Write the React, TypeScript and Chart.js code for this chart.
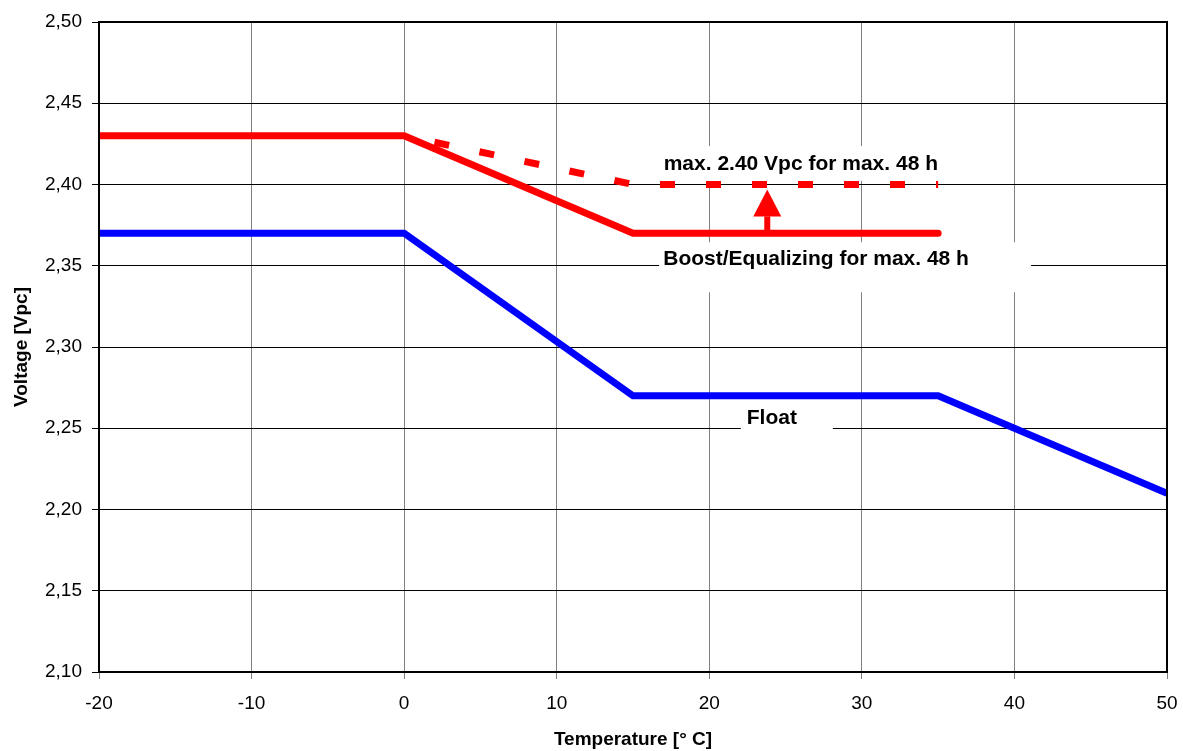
import React, { useEffect, useRef } from "react";
import { Chart, registerables } from "chart.js";

Chart.register(...registerables);

// ---- data ----
const xTickValues = [-20, -10, 0, 10, 20, 30, 40, 50];
const xTickLabels = ["-20", "-10", "0", "10", "20", "30", "40", "50"];
const yTickValues = [2.1, 2.15, 2.2, 2.25, 2.3, 2.35, 2.4, 2.45, 2.5];
const yTickLabels = ["2,10", "2,15", "2,20", "2,25", "2,30", "2,35", "2,40", "2,45", "2,50"];

const floatTemps = [-20, 0, 15, 35, 50];
const floatVolts = [2.37, 2.37, 2.27, 2.27, 2.21];

const boostTemps = [-20, 0, 15, 35];
const boostVolts = [2.43, 2.43, 2.37, 2.37];

const maxTemps = [0, 15, 35];
const maxVolts = [2.43, 2.4, 2.4];

const arrowTemp = 23.8;
const arrowFromVolt = 2.37;
const arrowToVolt = 2.397;

const noteTexts = ["max. 2.40 Vpc for max. 48 h", "Boost/Equalizing for max. 48 h", "Float"];
const noteTemps = [26.0, 27.0, 24.1];
const noteVolts = [2.4126, 2.354, 2.2563];

const FONT = "'Liberation Sans', Arial, Helvetica, sans-serif";

// white boxes behind notes (pixel offsets from note anchor: left, right, top, bottom)
const noteBoxes = [
  [-146, 145, -18, 17],
  [-157, 215, -17, 33],
  [-31, 61, -13, 22],
];

const annotationPlugin = {
  id: "notes",
  beforeDatasetsDraw(chart: any) {
    const { ctx, scales } = chart;
    ctx.save();
    ctx.fillStyle = "#ffffff";
    noteTexts.forEach((_, i) => {
      const cx = scales.x.getPixelForValue(noteTemps[i]);
      const cy = scales.y.getPixelForValue(noteVolts[i]);
      const b = noteBoxes[i];
      ctx.fillRect(cx + b[0], cy + b[2], b[1] - b[0], b[3] - b[2]);
    });
    ctx.restore();
  },
  afterDatasetsDraw(chart: any) {
    const { ctx, scales, chartArea } = chart;
    ctx.save();
    // arrow
    const ax = scales.x.getPixelForValue(arrowTemp);
    const y0 = scales.y.getPixelForValue(arrowFromVolt);
    const yTip = scales.y.getPixelForValue(arrowToVolt);
    const headLen = 27;
    const headHalf = 14;
    ctx.strokeStyle = "#ff0000";
    ctx.fillStyle = "#ff0000";
    ctx.lineWidth = 6;
    ctx.beginPath();
    ctx.moveTo(ax, y0);
    ctx.lineTo(ax, yTip + headLen);
    ctx.stroke();
    ctx.beginPath();
    ctx.moveTo(ax, yTip);
    ctx.lineTo(ax - headHalf, yTip + headLen);
    ctx.lineTo(ax + headHalf, yTip + headLen);
    ctx.closePath();
    ctx.fill();

    // border
    ctx.strokeStyle = "#000000";
    ctx.lineWidth = 2;
    ctx.strokeRect(chartArea.left, chartArea.top, chartArea.right - chartArea.left, chartArea.bottom - chartArea.top);

    // texts
    ctx.fillStyle = "#000000";
    ctx.font = `bold 21px ${FONT}`;
    ctx.textAlign = "center";
    ctx.textBaseline = "middle";
    noteTexts.forEach((t, i) => {
      const cx = scales.x.getPixelForValue(noteTemps[i]);
      const cy = scales.y.getPixelForValue(noteVolts[i]);
      ctx.fillText(t, cx, cy);
    });
    ctx.restore();
  },
};

export default function App() {
  const ref = useRef<HTMLCanvasElement | null>(null);

  useEffect(() => {
    if (!ref.current) return;
    const toPts = (xs: number[], ys: number[]) => xs.map((x, i) => ({ x, y: ys[i] }));
    const chart = new Chart(ref.current, {
      type: "scatter",
      data: {
        datasets: [
          {
            label: "Float",
            data: toPts(floatTemps, floatVolts),
            showLine: true,
            borderColor: "#0000ff",
            backgroundColor: "#0000ff",
            borderWidth: 7,
            pointRadius: 0,
            borderJoinStyle: "miter",
          },
          {
            label: "Boost",
            data: toPts(boostTemps, boostVolts),
            showLine: true,
            borderColor: "#ff0000",
            backgroundColor: "#ff0000",
            borderWidth: 7,
            pointRadius: 0,
            borderCapStyle: "round",
            borderJoinStyle: "miter",
          },
          {
            label: "Max",
            data: toPts(maxTemps, maxVolts),
            showLine: true,
            borderColor: "#ff0000",
            backgroundColor: "#ff0000",
            borderWidth: 7,
            borderDash: [15, 31],
            borderDashOffset: 15,
            pointRadius: 0,
          },
        ],
      },
      options: {
        responsive: false,
        animation: false,
        layout: { padding: { left: 0, top: 22, right: 16, bottom: 0 } },
        plugins: { legend: { display: false }, tooltip: { enabled: false } },
        scales: {
          x: {
            type: "linear",
            min: -20,
            max: 50,
            afterBuildTicks: (s: any) => {
              s.ticks = xTickValues.map((v) => ({ value: v }));
            },
            afterFit: (s: any) => {
              s.height = 79;
              s.paddingLeft = 0;
              s.paddingRight = 0;
            },
            ticks: {
              color: "#000",
              font: { family: FONT, size: 19 },
              padding: 13,
              maxRotation: 0,
              callback: (_v: any, i: number) => xTickLabels[i],
            },
            grid: { color: "#808080", lineWidth: 1, tickLength: 7 },
            border: { display: false },
            title: {
              display: true,
              text: "Temperature [° C]",
              color: "#000",
              font: { family: FONT, size: 19, weight: "bold" },
              padding: { top: 0, bottom: 0 },
            },
          },
          y: {
            type: "linear",
            min: 2.1,
            max: 2.5,
            afterBuildTicks: (s: any) => {
              s.ticks = yTickValues.map((v) => ({ value: v }));
            },
            afterFit: (s: any) => {
              s.width = 99;
              s.paddingTop = 0;
              s.paddingBottom = 0;
            },
            ticks: {
              color: "#000",
              font: { family: FONT, size: 19 },
              padding: 10,
              callback: (_v: any, i: number) => yTickLabels[i],
            },
            grid: { color: "#000000", lineWidth: 1, tickLength: 7 },
            border: { display: false },
            title: {
              display: true,
              text: "Voltage [Vpc]",
              color: "#000",
              font: { family: FONT, size: 19, weight: "bold" },
              padding: { top: 10, bottom: 0 },
            },
          },
        },
      },
      plugins: [annotationPlugin],
    } as any);
    return () => chart.destroy();
  }, []);

  return (
    <div style={{ position: "absolute", left: 0, top: 0, width: 1183, height: 751, background: "#fff" }}>
      <canvas ref={ref} width={1183} height={751} style={{ display: "block" }} />
    </div>
  );
}
